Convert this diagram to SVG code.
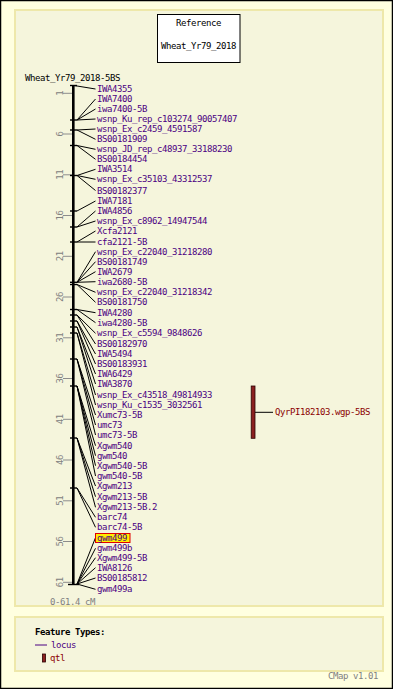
<svg xmlns="http://www.w3.org/2000/svg" width="393" height="689" viewBox="0 0 393 689">
<style>
text{font-family:"DejaVu Sans Mono","Liberation Mono",monospace;font-size:9px;letter-spacing:-0.42px}
.lbl{fill:#4b0082}
.blk{fill:#000}
.gry{fill:#808080}
.qtlt{fill:#8b0000}
.sc{stroke:#8c8c8c;stroke-width:1}
.ft{stroke:#000;stroke-width:1.4}
#connectors line{stroke:#000;stroke-width:1}
</style>
<rect x="0.5" y="0.5" width="392" height="688" fill="#ffffe0" stroke="#000" stroke-width="1.5"/>
<rect x="15" y="10" width="368" height="596" fill="#f5f5dc" stroke="#eee8aa" stroke-width="2"/>
<rect x="15" y="617" width="368" height="54" fill="#f5f5dc" stroke="#eee8aa" stroke-width="2"/>

<g id="title">
<rect x="157.5" y="14.5" width="82.5" height="48" fill="#fff" stroke="#000" stroke-width="1"/>
<text class="blk" x="198.5" y="26" text-anchor="middle">Reference</text>
<text class="blk" x="198.5" y="49" text-anchor="middle">Wheat_Yr79_2018</text>
</g>

<g id="map">
<text class="blk" x="25" y="80.5">Wheat_Yr79_2018-5BS</text>
<rect x="72" y="85" width="2.6" height="500" fill="#000"/>
<g id="scale">
<line class="sc" x1="63" y1="93.3" x2="72" y2="93.3"/>
<line class="sc" x1="63" y1="134" x2="72" y2="134"/>
<line class="sc" x1="63" y1="174.8" x2="72" y2="174.8"/>
<line class="sc" x1="63" y1="215.5" x2="72" y2="215.5"/>
<line class="sc" x1="63" y1="256.3" x2="72" y2="256.3"/>
<line class="sc" x1="63" y1="297" x2="72" y2="297"/>
<line class="sc" x1="63" y1="337.8" x2="72" y2="337.8"/>
<line class="sc" x1="63" y1="378.5" x2="72" y2="378.5"/>
<line class="sc" x1="63" y1="419.3" x2="72" y2="419.3"/>
<line class="sc" x1="63" y1="460" x2="72" y2="460"/>
<line class="sc" x1="63" y1="500.8" x2="72" y2="500.8"/>
<line class="sc" x1="63" y1="541.5" x2="72" y2="541.5"/>
<line class="sc" x1="63" y1="582.3" x2="72" y2="582.3"/>
<text class="gry" text-anchor="middle" transform="translate(62.5,93.3) rotate(-90)">1</text>
<text class="gry" text-anchor="middle" transform="translate(62.5,134) rotate(-90)">6</text>
<text class="gry" text-anchor="middle" transform="translate(62.5,174.8) rotate(-90)">11</text>
<text class="gry" text-anchor="middle" transform="translate(62.5,215.5) rotate(-90)">16</text>
<text class="gry" text-anchor="middle" transform="translate(62.5,256.3) rotate(-90)">21</text>
<text class="gry" text-anchor="middle" transform="translate(62.5,297) rotate(-90)">26</text>
<text class="gry" text-anchor="middle" transform="translate(62.5,337.8) rotate(-90)">31</text>
<text class="gry" text-anchor="middle" transform="translate(62.5,378.5) rotate(-90)">36</text>
<text class="gry" text-anchor="middle" transform="translate(62.5,419.3) rotate(-90)">41</text>
<text class="gry" text-anchor="middle" transform="translate(62.5,460) rotate(-90)">46</text>
<text class="gry" text-anchor="middle" transform="translate(62.5,500.8) rotate(-90)">51</text>
<text class="gry" text-anchor="middle" transform="translate(62.5,541.5) rotate(-90)">56</text>
<text class="gry" text-anchor="middle" transform="translate(62.5,582.3) rotate(-90)">61</text>
<text class="gry" x="50" y="604.5">0-61.4 cM</text>
</g>
<g id="feature-ticks">
<line class="ft" x1="70" y1="85.5" x2="77" y2="85.5"/>
<line class="ft" x1="70" y1="120" x2="77" y2="120"/>
<line class="ft" x1="70" y1="130" x2="77" y2="130"/>
<line class="ft" x1="70" y1="145.5" x2="77" y2="145.5"/>
<line class="ft" x1="70" y1="175.5" x2="77" y2="175.5"/>
<line class="ft" x1="70" y1="211" x2="77" y2="211"/>
<line class="ft" x1="70" y1="227" x2="77" y2="227"/>
<line class="ft" x1="70" y1="242" x2="77" y2="242"/>
<line class="ft" x1="70" y1="282.3" x2="77" y2="282.3"/>
<line class="ft" x1="70" y1="284.5" x2="77" y2="284.5"/>
<line class="ft" x1="70" y1="309.5" x2="77" y2="309.5"/>
<line class="ft" x1="70" y1="315" x2="77" y2="315"/>
<line class="ft" x1="70" y1="321" x2="77" y2="321"/>
<line class="ft" x1="70" y1="327" x2="77" y2="327"/>
<line class="ft" x1="70" y1="333" x2="77" y2="333"/>
<line class="ft" x1="70" y1="359" x2="77" y2="359"/>
<line class="ft" x1="70" y1="386" x2="77" y2="386"/>
<line class="ft" x1="70" y1="438" x2="77" y2="438"/>
<line class="ft" x1="70" y1="488" x2="77" y2="488"/>
<line class="ft" x1="68" y1="584.5" x2="79" y2="584.5"/>
</g>
</g>

<g id="connectors">
<line x1="74" y1="85.5" x2="95.5" y2="89"/>
<line x1="77" y1="120" x2="95.5" y2="99"/>
<line x1="77" y1="120" x2="95.5" y2="109"/>
<line x1="77" y1="120" x2="95.5" y2="119"/>
<line x1="77" y1="130" x2="95.5" y2="129"/>
<line x1="77" y1="130" x2="95.5" y2="139.3"/>
<line x1="77" y1="145.5" x2="95.5" y2="149.3"/>
<line x1="77" y1="145.5" x2="95.5" y2="159.3"/>
<line x1="77" y1="175.5" x2="95.5" y2="169.3"/>
<line x1="77" y1="175.5" x2="95.5" y2="179.3"/>
<line x1="77" y1="175.5" x2="95.5" y2="190.5"/>
<line x1="77" y1="211" x2="95.5" y2="201"/>
<line x1="77" y1="227" x2="95.5" y2="211"/>
<line x1="77" y1="227" x2="95.5" y2="221"/>
<line x1="77" y1="242" x2="95.5" y2="231"/>
<line x1="77" y1="242" x2="95.5" y2="242"/>
<line x1="77" y1="282.3" x2="95.5" y2="251.7"/>
<line x1="77" y1="282.3" x2="95.5" y2="261.7"/>
<line x1="77" y1="282.3" x2="95.5" y2="271.7"/>
<line x1="77" y1="282.3" x2="95.5" y2="281.7"/>
<line x1="77" y1="284.5" x2="95.5" y2="292.3"/>
<line x1="77" y1="284.5" x2="95.5" y2="302.3"/>
<line x1="77" y1="309.5" x2="95.5" y2="312.7"/>
<line x1="77" y1="309.5" x2="95.5" y2="322.7"/>
<line x1="77" y1="315" x2="95.5" y2="333.3"/>
<line x1="77" y1="315" x2="95.5" y2="344"/>
<line x1="77" y1="321" x2="95.5" y2="354"/>
<line x1="77" y1="321" x2="95.5" y2="364"/>
<line x1="77" y1="327" x2="95.5" y2="374"/>
<line x1="77" y1="327" x2="95.5" y2="384"/>
<line x1="77" y1="333" x2="95.5" y2="395"/>
<line x1="77" y1="333" x2="95.5" y2="405"/>
<line x1="77" y1="359" x2="95.5" y2="415"/>
<line x1="77" y1="359" x2="95.5" y2="425"/>
<line x1="77" y1="359" x2="95.5" y2="435"/>
<line x1="77" y1="386" x2="95.5" y2="445.7"/>
<line x1="77" y1="386" x2="95.5" y2="455.7"/>
<line x1="77" y1="386" x2="95.5" y2="465.7"/>
<line x1="77" y1="386" x2="95.5" y2="476"/>
<line x1="77" y1="438" x2="95.5" y2="486"/>
<line x1="77" y1="438" x2="95.5" y2="496.7"/>
<line x1="77" y1="438" x2="95.5" y2="507.3"/>
<line x1="77" y1="488" x2="95.5" y2="517.3"/>
<line x1="77" y1="488" x2="95.5" y2="527.3"/>
<line x1="77" y1="584" x2="95.5" y2="537.7"/>
<line x1="77" y1="584" x2="95.5" y2="548.3"/>
<line x1="77" y1="584" x2="95.5" y2="557.7"/>
<line x1="77" y1="584" x2="95.5" y2="567.7"/>
<line x1="77" y1="584" x2="95.5" y2="578"/>
<line x1="77" y1="584" x2="95.5" y2="589.3"/>
<line x1="255" y1="412.3" x2="273" y2="412.3"/>
</g>

<g id="labels">
<rect x="95.5" y="533.5" width="34.5" height="9" fill="#ffee00" stroke="#e00000" stroke-width="1"/>
<text class="lbl" x="97" y="92">IWA4355</text>
<text class="lbl" x="97" y="102">IWA7400</text>
<text class="lbl" x="97" y="112">iwa7400-5B</text>
<text class="lbl" x="97" y="122">wsnp_Ku_rep_c103274_90057407</text>
<text class="lbl" x="97" y="132">wsnp_Ex_c2459_4591587</text>
<text class="lbl" x="97" y="142.3">BS00181909</text>
<text class="lbl" x="97" y="152.3">wsnp_JD_rep_c48937_33188230</text>
<text class="lbl" x="97" y="162.3">BS00184454</text>
<text class="lbl" x="97" y="172.3">IWA3514</text>
<text class="lbl" x="97" y="182.3">wsnp_Ex_c35103_43312537</text>
<text class="lbl" x="97" y="193.5">BS00182377</text>
<text class="lbl" x="97" y="204">IWA7181</text>
<text class="lbl" x="97" y="214">IWA4856</text>
<text class="lbl" x="97" y="224">wsnp_Ex_c8962_14947544</text>
<text class="lbl" x="97" y="234">Xcfa2121</text>
<text class="lbl" x="97" y="245">cfa2121-5B</text>
<text class="lbl" x="97" y="254.7">wsnp_Ex_c22040_31218280</text>
<text class="lbl" x="97" y="264.7">BS00181749</text>
<text class="lbl" x="97" y="274.7">IWA2679</text>
<text class="lbl" x="97" y="284.7">iwa2680-5B</text>
<text class="lbl" x="97" y="295.3">wsnp_Ex_c22040_31218342</text>
<text class="lbl" x="97" y="305.3">BS00181750</text>
<text class="lbl" x="97" y="315.7">IWA4280</text>
<text class="lbl" x="97" y="325.7">iwa4280-5B</text>
<text class="lbl" x="97" y="336.3">wsnp_Ex_c5594_9848626</text>
<text class="lbl" x="97" y="347">BS00182970</text>
<text class="lbl" x="97" y="357">IWA5494</text>
<text class="lbl" x="97" y="367">BS00183931</text>
<text class="lbl" x="97" y="377">IWA6429</text>
<text class="lbl" x="97" y="387">IWA3870</text>
<text class="lbl" x="97" y="398">wsnp_Ex_c43518_49814933</text>
<text class="lbl" x="97" y="408">wsnp_Ku_c1535_3032561</text>
<text class="lbl" x="97" y="418">Xumc73-5B</text>
<text class="lbl" x="97" y="428">umc73</text>
<text class="lbl" x="97" y="438">umc73-5B</text>
<text class="lbl" x="97" y="448.7">Xgwm540</text>
<text class="lbl" x="97" y="458.7">gwm540</text>
<text class="lbl" x="97" y="468.7">Xgwm540-5B</text>
<text class="lbl" x="97" y="479">gwm540-5B</text>
<text class="lbl" x="97" y="489">Xgwm213</text>
<text class="lbl" x="97" y="499.7">Xgwm213-5B</text>
<text class="lbl" x="97" y="510.3">Xgwm213-5B.2</text>
<text class="lbl" x="97" y="520.3">barc74</text>
<text class="lbl" x="97" y="530.3">barc74-5B</text>
<text class="lbl" x="97" y="540.7">gwm499</text>
<text class="lbl" x="97" y="551.3">gwm499b</text>
<text class="lbl" x="97" y="560.7">Xgwm499-5B</text>
<text class="lbl" x="97" y="570.7">IWA8126</text>
<text class="lbl" x="97" y="581">BS00185812</text>
<text class="lbl" x="97" y="592.3">gwm499a</text>
</g>

<g id="qtl">
<rect x="251.2" y="386" width="3.8" height="52.3" fill="#8b2020" stroke="#2a0000" stroke-width="0.8"/>
<text class="qtlt" x="275" y="415.3">QyrPI182103.wgp-5BS</text>
</g>

<g id="legend">
<text class="blk" x="35" y="635" font-weight="bold">Feature Types:</text>
<line x1="35" y1="645" x2="47" y2="645" stroke="#4b0082" stroke-width="1"/>
<text class="lbl" x="51" y="648">locus</text>
<rect x="42.5" y="654" width="3" height="8" fill="#8b2020" stroke="#2a0000" stroke-width="0.8"/>
<text class="qtlt" x="50" y="661">qtl</text>
</g>
<text class="gry" x="328" y="679">CMap v1.01</text>
</svg>
